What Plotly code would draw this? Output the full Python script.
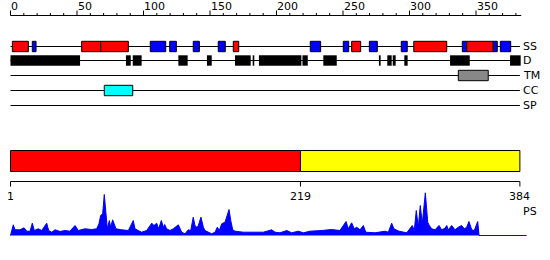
import plotly.graph_objects as go

# ---------------- data ----------------
seq_len = 384
top_ticks = list(range(0, 381, 10))
top_labels = [0, 50, 100, 150, 200, 250, 300, 350]

ss_start = [1.4, 16.4, 53.5, 67.8, 105.1, 119.7, 137.4, 156.2, 167.5, 225.4, 250.2, 256.5, 269.8, 293.8, 303.2, 339.7, 343.0, 363.0, 368.3]
ss_end   = [13.4, 19.2, 67.8, 88.6, 116.7, 124.7, 142.0, 161.5, 171.6, 233.2, 254.3, 263.3, 275.8, 298.3, 328.0, 343.0, 363.0, 366.0, 376.1]
ss_type  = ['H', 'E', 'H', 'H', 'E', 'E', 'E', 'E', 'H', 'E', 'E', 'H', 'E', 'E', 'H', 'E', 'H', 'E', 'E']

dis_start = [0.0, 86.8, 91.9, 126.2, 147.7, 168.8, 182.1, 186.8, 219.5, 235.2, 277.0, 283.3, 287.4, 296.1, 330.5, 375.6]
dis_end   = [52.3, 90.4, 98.6, 133.2, 151.3, 180.6, 183.3, 218.7, 223.5, 245.3, 278.3, 286.6, 289.6, 298.6, 345.3, 383.6]

tm_start, tm_end = [336.7], [359.2]
cc_start, cc_end = [70.5], [91.9]
sp_start, sp_end = [], []

track_names = ['SS', 'D', 'TM', 'CC', 'SP']

domain_start = [1, 219]
domain_end = [219, 384]
domain_color = ['#ff0000', '#ffff00']
bottom_ticks = [1, 219, 384]

prof_res = [1, 3.1, 4.4, 8.1, 11.2, 13.2, 15.7, 17.4, 18.9, 21.9, 24.5, 26.9, 28.2, 29.7, 32, 34.5, 38.2, 42, 45.7, 49.5,
            52, 57, 62, 65.8, 67.5, 68.8, 70.3, 71.5, 72.8, 73.8, 75.3, 76.3, 77.8, 78.8, 80.3, 84.6, 89.6, 93.3, 94.6, 97.1,
            99.6, 103.4, 107.2, 108.9, 110.9, 112.4, 114.4, 115.9, 116.9, 118.4, 120.9, 123.4, 127.2, 129.7, 132.2, 134.7, 136.5, 138.4, 139.7, 141,
            142.2, 144.2, 146, 147.2, 149.7, 152.3, 154.8, 156.5, 158, 159.8, 162.3, 163.6, 165.3, 166.6, 168.1, 169.8, 176, 183.6, 191.1, 197.4,
            199.9, 203.6, 208.7, 212.4, 217.4, 221.2, 226.2, 235, 242.5, 248.7, 253.3, 255, 257.5, 259.5, 261.3, 263.8, 266.3, 268.1, 275.1, 282.6,
            285.1, 287.6, 289.3, 293.1, 298.9, 303.1, 304.6, 306.1, 307.6, 309.1, 310.6, 312.9, 314.7, 315.9, 317.7, 320.2, 323.2, 325.2, 327.7, 329,
            330.2, 332.7, 335.2, 337.7, 340.2, 342.2, 344, 345.7, 347.8, 349.7, 352.3, 353.3, 389]
prof_val = [0, 10.7, 5.7, 5.7, 7.7, 4.3, 4.3, 12.3, 5, 6.7, 5, 10, 12.3, 5, 3.3, 5.7, 4, 5, 4.3, 10,
            5, 6.7, 6, 6.7, 11.7, 20, 21.7, 41, 21.7, 6.7, 15, 8.3, 15.7, 11.7, 6.7, 5.7, 5, 15, 6.7, 5,
            3.3, 5, 12.3, 10, 12.3, 6.7, 15, 8.3, 11, 6.7, 5, 6.7, 10.7, 3.3, 1.7, 5.7, 5, 18.3, 10, 8.3,
            10, 18.3, 8.3, 5, 3.3, 1.7, 3.3, 8.3, 5, 11.7, 13.3, 18.3, 26, 15, 5.7, 4.3, 3.3, 3.3, 3.3, 5.7,
            3.3, 2.7, 5, 2.7, 4.3, 2.7, 4.3, 5, 6, 5, 14, 6.7, 12.7, 6.7, 8.3, 5.7, 10, 3.3, 2.7, 4.3,
            3.3, 12.3, 6.7, 4.3, 2.7, 10, 5, 25, 8.3, 30, 11.7, 42.7, 13.3, 10, 6.7, 5.7, 10, 5.7, 7.3, 10,
            5.7, 10, 5.7, 8.3, 10, 6.7, 8.3, 14, 5.7, 5, 14, 0, 0]

# ---------------- layout helpers (pixel rows) ----------------
PX_PER_RES = 1.33
X0_PX = 10.5
W, H = 550, 260
x_range = [-X0_PX / PX_PER_RES, (W - X0_PX) / PX_PER_RES]

row_y = {'SS': 46.5, 'D': 60.5, 'TM': 75.5, 'CC': 90.5, 'SP': 105.5}
box_half = 5.2
FONT = dict(family='DejaVu Sans', size=11, color='black')

shapes = []
annotations = []

def line(x0, y0, x1, y1, color='black', width=1):
    shapes.append(dict(type='line', xref='x', yref='y', x0=x0, y0=y0, x1=x1, y1=y1,
                       line=dict(color=color, width=width)))

def rect(x0, x1, y0, y1, fill, border='black', bw=1):
    shapes.append(dict(type='rect', xref='x', yref='y', x0=x0, x1=x1, y0=y0, y1=y1,
                       fillcolor=fill, line=dict(color=border, width=bw)))

# top ruler
ruler_y = 15.5
line(0, ruler_y, seq_len, ruler_y)
for t in top_ticks:
    if t in top_labels:
        line(t, ruler_y, t, ruler_y - 5)
    else:
        line(t, ruler_y, t, ruler_y - 2.5)
for t in top_labels:
    annotations.append(dict(x=t, y=6.5, xref='x', yref='y', text=str(t), showarrow=False,
                            xanchor='left', yanchor='middle', font=FONT, xshift=-1.5))

# track lines + labels
track_end = seq_len - 1
for name in track_names:
    y = row_y[name]
    line(0, y, track_end, y)
    annotations.append(dict(x=seq_len + 0.5, y=y, xref='x', yref='y', text=name, showarrow=False,
                            xanchor='left', yanchor='middle', font=FONT, xshift=-1))

# SS boxes
ss_colors = {'H': '#ff0000', 'E': '#0000ff'}
for s, e, t in zip(ss_start, ss_end, ss_type):
    rect(s, e, row_y['SS'] - box_half, row_y['SS'] + box_half, ss_colors[t])

# disorder
for s, e in zip(dis_start, dis_end):
    rect(s, e, row_y['D'] - box_half, row_y['D'] + box_half, 'black', border='black', bw=0)

for s, e in zip(tm_start, tm_end):
    rect(s, e, row_y['TM'] - box_half, row_y['TM'] + box_half, '#888888')
for s, e in zip(cc_start, cc_end):
    rect(s, e, row_y['CC'] - box_half, row_y['CC'] + box_half, '#00ffff')
for s, e in zip(sp_start, sp_end):
    rect(s, e, row_y['SP'] - box_half, row_y['SP'] + box_half, '#00ff00')

# domain bar
bar_top, bar_bot = 150.5, 171.5
for s, e, c in zip(domain_start, domain_end, domain_color):
    rect(s - 1, e - 1, bar_top, bar_bot, c)

# bottom ruler
bruler_y = 181.5
line(0, bruler_y, seq_len - 1, bruler_y)
for t in bottom_ticks:
    line(t - 1, bruler_y, t - 1, bruler_y + 5)
    annotations.append(dict(x=t - 1, y=196, xref='x', yref='y', text=str(t), showarrow=False,
                            xanchor='center', yanchor='middle', font=FONT))
annotations.append(dict(x=seq_len + 0.5, y=211, xref='x', yref='y', text='PS', showarrow=False,
                        xanchor='left', yanchor='middle', font=FONT, xshift=-1))

# profile on its own axis: value 0 sits at pixel row 235
base_px = 235.5
y2_range = [-(H - base_px), base_px]

fig = go.Figure()
fig.add_trace(go.Scatter(x=[r - 1 for r in prof_res], y=prof_val, mode='lines', yaxis='y2',
                         line=dict(color='#0000ff', width=1), fill='tozeroy', fillcolor='#0000ff',
                         hoverinfo='skip', showlegend=False))

fig.update_layout(
    width=W, height=H, margin=dict(l=0, r=0, t=0, b=0),
    paper_bgcolor='white', plot_bgcolor='white',
    xaxis=dict(range=x_range, visible=False, fixedrange=True),
    yaxis=dict(range=[H, 0], visible=False, fixedrange=True),
    yaxis2=dict(range=y2_range, visible=False, overlaying='y', fixedrange=True),
    shapes=shapes, annotations=annotations, showlegend=False,
)
fig.write_html('out.html')
